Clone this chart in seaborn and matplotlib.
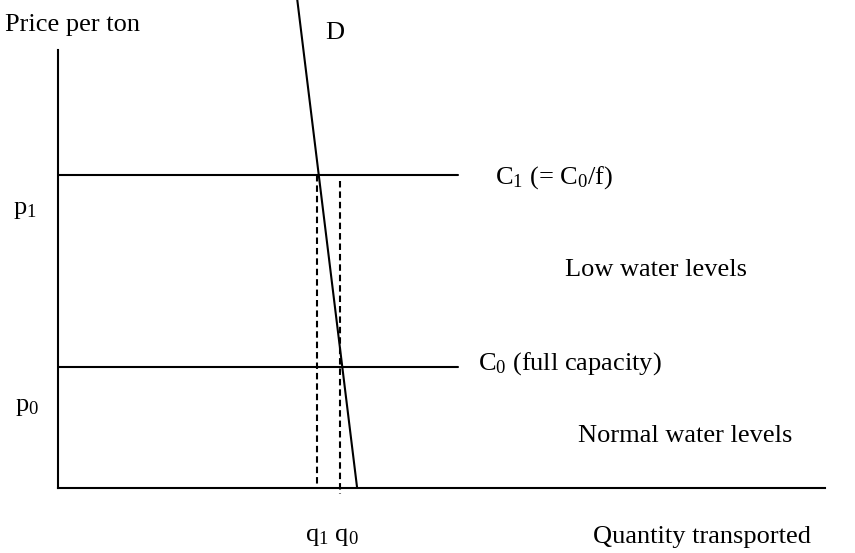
import matplotlib
matplotlib.use("Agg")
import matplotlib.pyplot as plt
import seaborn as sns
import pandas as pd

# diagram values (quantity on x, price per ton on y, axis box 0..100)
q1, q0 = 33.8, 36.8
p1, p0 = 71.5, 27.6
cost_end = 52.2
demand_q = [31.2, 39.0]
demand_p = [111.4, 0.0]

sns.set_style("white")
plt.rcParams["font.family"] = ["Liberation Serif", "DejaVu Serif"]
plt.rcParams["text.color"] = "black"
plt.rcParams["mathtext.fontset"] = "custom"
plt.rcParams["mathtext.rm"] = "Liberation Serif"
plt.rcParams["mathtext.it"] = "Liberation Serif:italic"

fig = plt.figure(figsize=(8.55, 5.53), dpi=100)
ax = fig.add_axes([58 / 855, (553 - 488) / 553, 767 / 855, 438 / 553])

demand = pd.DataFrame({"q": demand_q, "p": demand_p})
sns.lineplot(data=demand, x="q", y="p", ax=ax, color="black", lw=1.5,
             clip_on=False, sort=False)

for p in [p1, p0]:
    sns.lineplot(x=[0, cost_end], y=[p, p], ax=ax, color="black", lw=1.5)

dash = (0, (3.1, 1.9))
ax.plot([q1, q1], [p1, 0], color="black", lw=1.5, ls=dash, clip_on=False)
ax.plot([q0, q0], [70.1, -1.4], color="black", lw=1.5, ls=dash, clip_on=False)

ax.set_xlim(0, 100)
ax.set_ylim(0, 100)
ax.set_xticks([])
ax.set_yticks([])
ax.set_xlabel("")
ax.set_ylabel("")
for s in ["top", "right"]:
    ax.spines[s].set_visible(False)
for s in ["left", "bottom"]:
    ax.spines[s].set_linewidth(1.5)
    ax.spines[s].set_color("black")

fs = 19
kw = dict(fontsize=fs, va="center", ha="left", clip_on=False, color="black")
ax.text(-6.9, 105.7, "Price per ton", **kw)
ax.text(34.8, 103.9, "D", **kw)
ax.text(-5.9, 63.5, r"p$_1$", **kw)
ax.text(-5.6, 18.5, r"p$_0$", **kw)
ax.text(57.0, 70.8, r"C$_1$ (= C$_0$/f)", **kw)
ax.text(66.1, 49.8, "Low water levels", **kw)
ax.text(54.8, 28.5, r"C$_0$ (full capacity)", **kw)
ax.text(67.8, 11.9, "Normal water levels", **kw)
ax.text(32.2, -11.2, r"q$_1$ q$_0$", **kw)
ax.text(69.8, -11.2, "Quantity transported", **kw)

fig.savefig("out.png", dpi=100)
plt.close(fig)
